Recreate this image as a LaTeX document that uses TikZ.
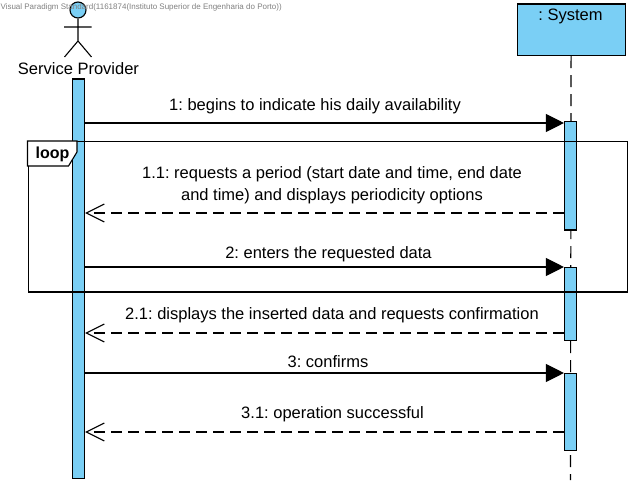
\documentclass[tikz,border=0pt]{standalone}
\usepackage{fontspec}
\setmainfont{Liberation Sans}
\usetikzlibrary{arrows.meta}
\definecolor{barblue}{RGB}{122,207,245}
\frenchspacing
\tikzset{
    bar/.style={draw,fill=barblue,minimum width=12pt,inner sep=0pt,anchor=north},
    call/.style={-{Triangle[length=18pt,width=18pt]}},
    reply/.style={dash pattern=on 11pt off 6pt,-{Straight Barb[length=18pt,width=18pt,line width=1.1pt]}},
    msg/.style={font=\fontsize{16.5}{22}\selectfont,align=center,inner sep=0pt},
}
\begin{document}
\begin{tikzpicture}[x=1pt,y=-1pt,line width=1.1pt]
    \useasboundingbox (0,0) rectangle (632,486);
    % lifeline of the system
    \node[draw,fill=barblue,minimum width=108pt,minimum height=51.5pt,inner sep=0pt,anchor=north west] (system) at (516.5,3.5) {};
    \node[msg] (systemlabel) at (570.5,16.5) {: System};
    \coordinate (lifeend) at (570.5,480);
    \draw[dash pattern=on 12pt off 7pt] (system.south) -- (lifeend);
    % actor
    \node[circle,draw,fill=barblue,minimum size=16pt,inner sep=0pt] (head) at (78,10) {};
    \coordinate (hip) at (78,41);
    \coordinate (armleft) at (64,27);
    \coordinate (armright) at (91.5,27);
    \coordinate (footleft) at (64.5,57);
    \coordinate (footright) at (91.5,57);
    \draw (head.south) -- (hip) (armleft) -- (armright) (footleft) -- (hip) -- (footright);
    \node[msg] (actor) at (78.5,69) {Service Provider};
    \node[font=\fontsize{8}{8}\selectfont,text=gray,inner sep=0pt,anchor=west] (mark) at (0,7.5) {Visual Paradigm Standard(1161874(Instituto Superior de Engenharia do Porto))};
    % activations
    \node[bar,minimum height=399.5pt] (barA) at (78.5,78.5) {};
    \node[bar,minimum height=108.5pt] (barB) at (570.5,121) {};
    \node[bar,minimum height=73pt] (barC) at (570.5,267) {};
    \node[bar,minimum height=77pt] (barD) at (570.5,373) {};
    % loop frame
    \node[draw,minimum width=599pt,minimum height=150.5pt,inner sep=0pt,anchor=north west] (frame) at (27.5,141) {};
    \draw[fill=white] (frame.north west) -- ++(49.5,0) -- ++(0,11) -- ++(-8.5,14) -- ++(-41,0) -- cycle;
    \node[font=\fontsize{16}{16}\selectfont\bfseries,inner sep=0pt] (looplabel) at (52.5,154) {loop};
    % messages
    \coordinate (m1) at (0,123);
    \coordinate (m11) at (0,213);
    \coordinate (m2) at (0,267);
    \coordinate (m21) at (0,333);
    \coordinate (m3) at (0,373);
    \coordinate (m31) at (0,432);
    \draw[call] (barA.east |- m1) -- (barB.west |- m1);
    \draw[reply] (barB.west |- m11) -- (barA.east |- m11);
    \draw[call] (barA.east |- m2) -- (barC.west |- m2);
    \draw[reply] (barC.west |- m21) -- (barA.east |- m21);
    \draw[call] (barA.east |- m3) -- (barD.west |- m3);
    \draw[reply] (barD.west |- m31) -- (barA.east |- m31);
    \node[msg] (t1) at (315,106.5) {1: begins to indicate his daily availability};
    \node[msg] (t11) at (332,185.5) {1.1: requests a period (start date and time, end date\\and time) and displays periodicity options};
    \node[msg] (t2) at (328.5,254.5) {2: enters the requested data};
    \node[msg] (t21) at (332,315.5) {2.1: displays the inserted data and requests confirmation};
    \node[msg] (t3) at (328,361.5) {3: confirms};
    \node[msg] (t31) at (332.5,414.5) {3.1: operation successful};
\end{tikzpicture}
\end{document}
